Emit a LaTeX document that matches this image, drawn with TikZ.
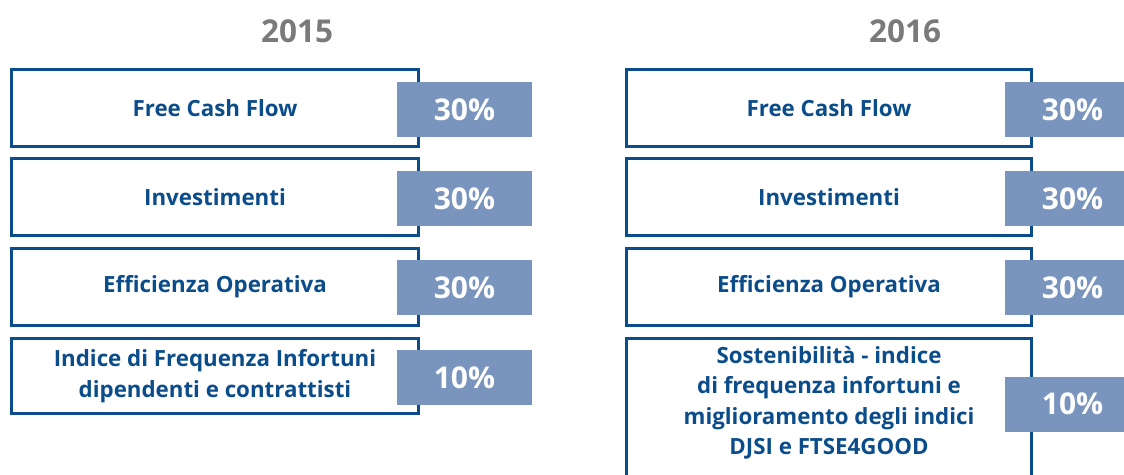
\documentclass[tikz,border=0pt]{standalone}
\usepackage{fontspec}
\setmainfont{Open Sans}
\definecolor{boxblue}{HTML}{0B4C8A}
\definecolor{pctblue}{HTML}{7A95BD}
\definecolor{yeargray}{HTML}{7A7A7A}
\begin{document}
\begin{tikzpicture}[x=1pt, y=-1pt,
  item/.style={draw=boxblue, line width=3pt, fill=white, text=boxblue, align=center,
    font=\bfseries\fontsize{22.3}{30.5}\selectfont, inner sep=0pt,
    minimum width=407pt, minimum height=77pt},
  pct/.style={fill=pctblue, text=white, font=\bfseries\fontsize{30}{30}\selectfont,
    inner sep=0pt, minimum width=135pt, minimum height=55pt},
  year/.style={text=yeargray, font=\bfseries\fontsize{31.5}{32}\selectfont}]
\useasboundingbox (0,0) rectangle (1124,474);
% 2015
\node[year] (y15) at (297,31) {2015};
\node[item] (fcf15) at (215,108) {Free Cash Flow};
\node[item] (inv15) at (215,197) {Investimenti};
\node[item] (eff15) at (215,287) {Efficienza Operativa};
\node[item, minimum height=75pt] (inf15) at (215,376) {Indice di Frequenza Infortuni\\dipendenti e contrattisti};
\node[pct] (pfcf15) at (464.5,109.5) {30\%};
\node[pct] (pinv15) at (464.5,198.5) {30\%};
\node[pct] (peff15) at (464.5,287.5) {30\%};
\node[pct] (pinf15) at (464.5,377.5) {10\%};
% 2016
\node[year] (y16) at (905,31) {2016};
\node[item, minimum width=405pt] (fcf16) at (829,108) {Free Cash Flow};
\node[item, minimum width=405pt] (inv16) at (829,197) {Investimenti};
\node[item, minimum width=405pt] (eff16) at (829,287) {Efficienza Operativa};
\draw[boxblue, line width=3pt] (626.5,490) |- (1031.5,338.5) -- (1031.5,490);
\node[item, draw=none, fill=none] (sos16) at (829,403) {Sostenibilità - indice\\di frequenza infortuni e\\miglioramento degli indici\\DJSI e FTSE4GOOD};
\node[pct] (pfcf16) at (1072.5,109.5) {30\%};
\node[pct] (pinv16) at (1072.5,198.5) {30\%};
\node[pct] (peff16) at (1072.5,287.5) {30\%};
\node[pct] (psos16) at (1072.5,404) {10\%};
\end{tikzpicture}
\end{document}
